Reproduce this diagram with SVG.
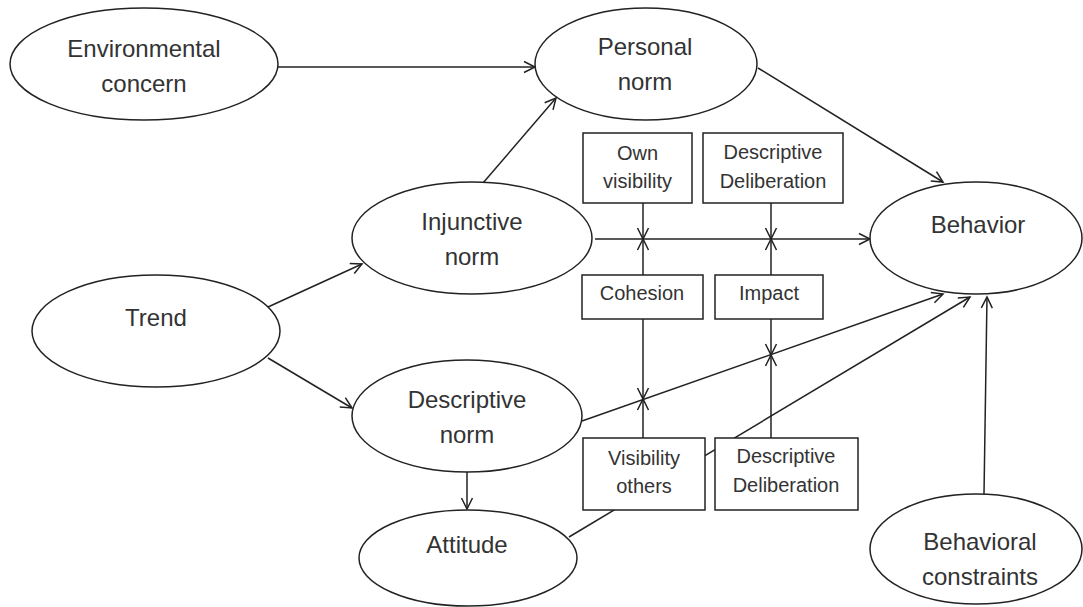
<svg xmlns="http://www.w3.org/2000/svg" width="1083" height="607" viewBox="0 0 1083 607">
<style>
.n{fill:#fff;stroke:#222;stroke-width:1.5}
.t{font-family:"Liberation Sans",Arial,sans-serif;font-size:24px;fill:#333;text-anchor:middle}
.b{font-family:"Liberation Sans",Arial,sans-serif;font-size:20px;fill:#333;text-anchor:middle}
.c line{stroke:#222;stroke-width:1.5;marker-end:url(#ah)}
</style>
<defs>
<marker id="ah" viewBox="-12 -7 14 14" refX="0" refY="0" markerWidth="14" markerHeight="14" orient="auto" markerUnits="userSpaceOnUse">
<path d="M-11,-5.5 L0,0 L-11,5.5" fill="none" stroke="#222" stroke-width="1.5"/>
</marker>
</defs>
<rect width="1083" height="607" fill="#fff"/>
<g id="connectors" class="c">
<line x1="278" y1="67" x2="535" y2="67"/>
<line x1="483" y1="183" x2="556" y2="98"/>
<line x1="758" y1="68" x2="943" y2="182"/>
<line x1="268" y1="307" x2="362" y2="264"/>
<line x1="268" y1="358" x2="352" y2="408"/>
<line x1="467" y1="472" x2="467" y2="509"/>
<line x1="595" y1="239" x2="870" y2="239"/>
<line x1="643" y1="203" x2="643" y2="239"/>
<line x1="643" y1="275" x2="643" y2="239"/>
<line x1="771" y1="203" x2="771" y2="239"/>
<line x1="771" y1="275" x2="771" y2="239"/>
<line x1="643" y1="319" x2="643" y2="399"/>
<line x1="643" y1="438" x2="643" y2="399"/>
<line x1="771" y1="319" x2="771" y2="355"/>
<line x1="771" y1="438" x2="771" y2="355"/>
<line x1="582" y1="421" x2="943" y2="294"/>
<line x1="569" y1="537" x2="970" y2="297"/>
<line x1="984" y1="494" x2="987" y2="297"/>
</g>
<g id="environmental-concern"><ellipse class="n" cx="144" cy="64" rx="134" ry="56"/><text class="t" x="144" y="57">Environmental</text><text class="t" x="144" y="92">concern</text></g>
<g id="personal-norm"><ellipse class="n" cx="646" cy="64" rx="111" ry="56"/><text class="t" x="645" y="55">Personal</text><text class="t" x="645" y="90">norm</text></g>
<g id="injunctive-norm"><ellipse class="n" cx="472" cy="238" rx="120" ry="56"/><text class="t" x="472" y="230">Injunctive</text><text class="t" x="472" y="265">norm</text></g>
<g id="trend"><ellipse class="n" cx="156" cy="331" rx="124" ry="56"/><text class="t" x="156" y="326">Trend</text></g>
<g id="descriptive-norm"><ellipse class="n" cx="467" cy="416" rx="115" ry="56"/><text class="t" x="467" y="408">Descriptive</text><text class="t" x="467" y="443">norm</text></g>
<g id="attitude"><ellipse class="n" cx="468" cy="558" rx="109" ry="48"/><text class="t" x="467" y="553">Attitude</text></g>
<g id="behavior"><ellipse class="n" cx="976" cy="238" rx="106" ry="56"/><text class="t" x="978" y="233">Behavior</text></g>
<g id="behavioral-constraints"><ellipse class="n" cx="976" cy="549" rx="106" ry="55"/><text class="t" x="980" y="550">Behavioral</text><text class="t" x="980" y="585">constraints</text></g>
<g id="own-visibility"><rect class="n" x="583" y="133" width="109" height="70"/><text class="b" x="637.5" y="160">Own</text><text class="b" x="637.5" y="188">visibility</text></g>
<g id="descriptive-deliberation-top"><rect class="n" x="703" y="133" width="140" height="70"/><text class="b" x="773" y="159">Descriptive</text><text class="b" x="773" y="188">Deliberation</text></g>
<g id="cohesion"><rect class="n" x="582" y="275" width="121" height="44"/><text class="b" x="642" y="300">Cohesion</text></g>
<g id="impact"><rect class="n" x="715" y="275" width="108" height="44"/><text class="b" x="769" y="300">Impact</text></g>
<g id="visibility-others"><rect class="n" x="583" y="438" width="122" height="72"/><text class="b" x="644" y="465">Visibility</text><text class="b" x="644" y="493">others</text></g>
<g id="descriptive-deliberation-bottom"><rect class="n" x="715" y="438" width="143" height="72"/><text class="b" x="786" y="463">Descriptive</text><text class="b" x="786" y="492">Deliberation</text></g>
</svg>
